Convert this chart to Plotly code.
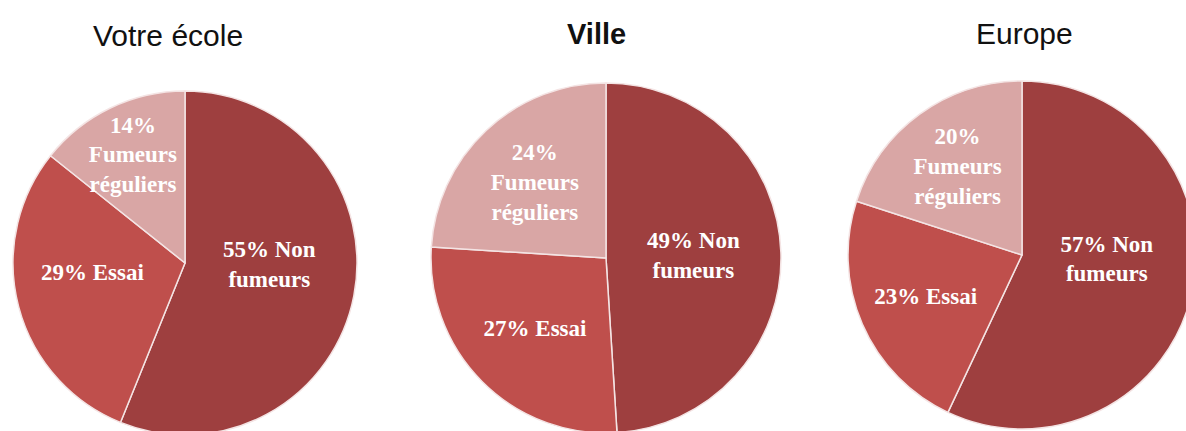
import plotly.graph_objects as go

titles = ["Votre école", "Ville", "Europe"]
title_bold = [False, True, False]
categories = ["Non fumeurs", "Essai", "Fumeurs réguliers"]
ecole = [55, 29, 14]
ville = [49, 27, 24]
europe = [57, 23, 20]
series = [ecole, ville, europe]
colors = ["#9E3F3F", "#BF4F4C", "#D9A6A5"]

# label layouts (line breaks) per pie
label_text = [
    ["{v}% Non<br>fumeurs<br> ", "{v}% Essai<br> ", "{v}%<br>Fumeurs<br>réguliers"],
    ["{v}% Non<br>fumeurs", "{v}% Essai", "{v}%<br>Fumeurs<br>réguliers"],
    ["{v}% Non<br>fumeurs<br> ", "{v}% Essai", "{v}%<br>Fumeurs<br>réguliers"],
]

W, H = 1200, 445
# pie geometry in pixels: (center x, center y, radius)
geo = [(185, 263, 172), (606, 258, 175), (1022, 255, 174)]
title_pos = [(168, 36), (596, 34), (1024, 33)]

fig = go.Figure()
for vals, labs, (cx, cy, r) in zip(series, label_text, geo):
    texts = [f"<b>{lab.format(v=v)}</b>" for v, lab in zip(vals, labs)]
    fig.add_trace(go.Pie(
        labels=categories, values=vals, text=texts,
        textinfo="text", textposition="inside",
        insidetextorientation="horizontal",
        sort=False, direction="clockwise", rotation=0,
        marker=dict(colors=colors, line=dict(color="#F4E4E4", width=1.5)),
        textfont=dict(family="Liberation Serif", size=23, color="white"),
        domain=dict(x=[(cx - r) / W, (cx + r) / W],
                    y=[1 - (cy + r) / H, 1 - (cy - r) / H]),
        showlegend=False, hoverinfo="label+percent",
    ))

for t, b, (tx, ty) in zip(titles, title_bold, title_pos):
    fig.add_annotation(
        text=f"<b>{t}</b>" if b else t, x=tx / W, y=1 - ty / H,
        xref="paper", yref="paper", showarrow=False,
        xanchor="center", yanchor="middle",
        font=dict(family="Liberation Sans", size=30 if not b else 29, color="#111111"),
    )

fig.update_layout(
    width=W, height=H, margin=dict(l=0, r=0, t=0, b=0),
    paper_bgcolor="white", plot_bgcolor="white",
    uniformtext=dict(minsize=23, mode="show"),
)

fig.write_html(
    "out.html",
    config={"displayModeBar": False},
    post_script="document.body.style.margin='0';document.body.style.overflow='hidden';document.documentElement.style.overflow='hidden';",
)
